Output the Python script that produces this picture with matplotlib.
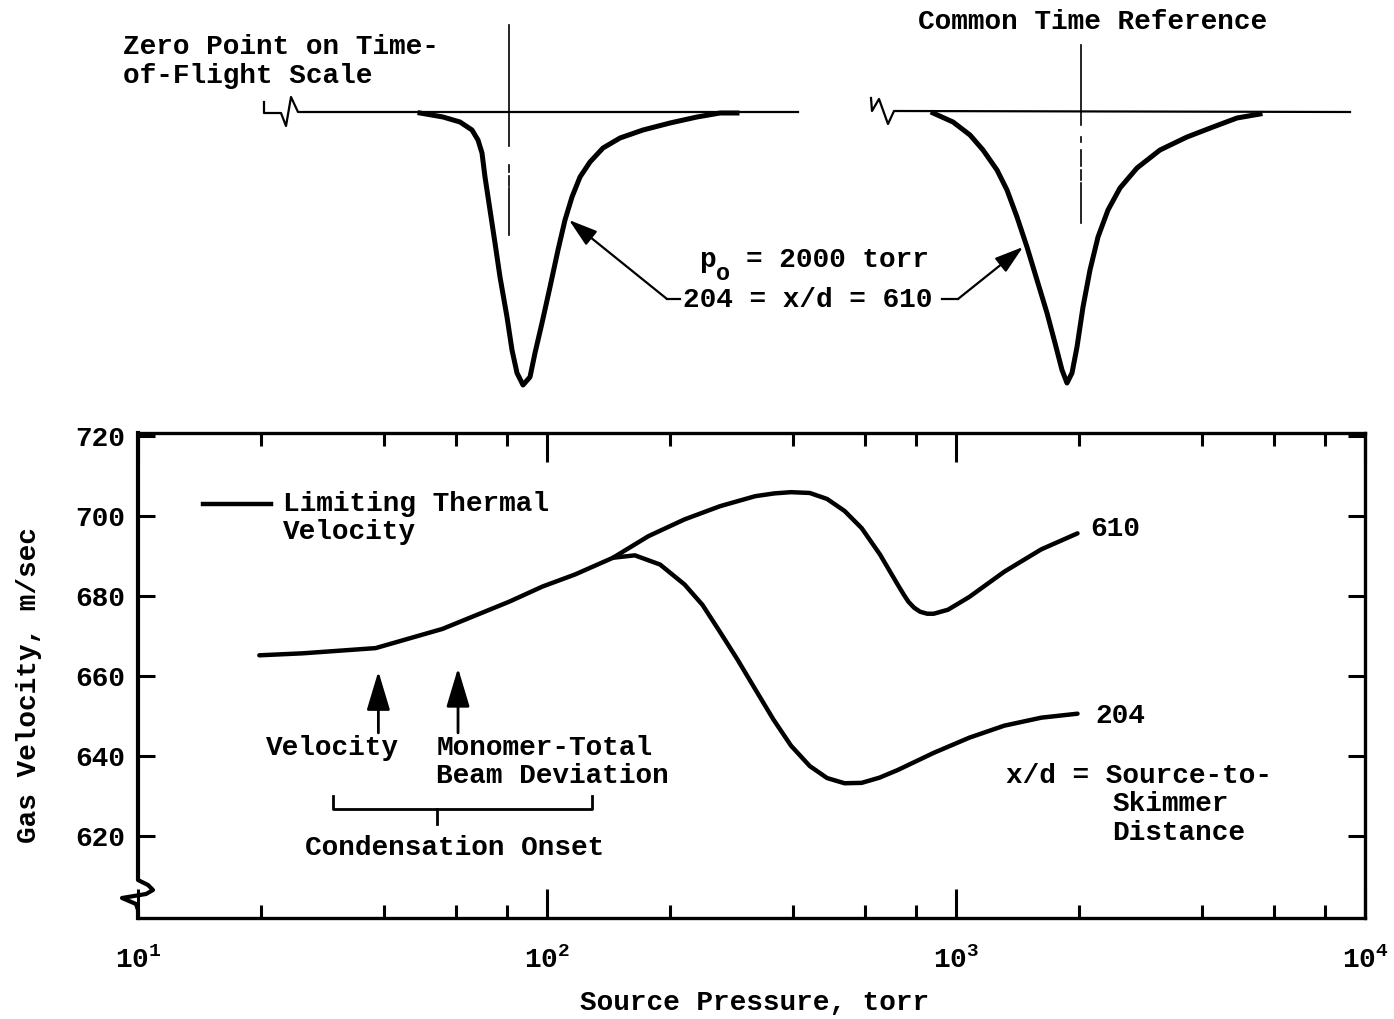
import numpy as np
import matplotlib
matplotlib.use("Agg")
import matplotlib.pyplot as plt
from matplotlib.ticker import FixedLocator, FixedFormatter, NullFormatter

plt.rcParams['font.family'] = ['Liberation Mono', 'DejaVu Sans Mono']
plt.rcParams['font.weight'] = 'bold'
plt.rcParams['axes.labelweight'] = 'bold'
FS = 20

# ── gas velocity vs source pressure ─────────────────────────────────────────────
# common curve up to ~145 torr, then the x/d = 610 branch
p_610 = [19.8, 25.3, 38.1, 55.5, 80.8, 97.5, 117, 145, 177, 217, 265, 323, 360,
         395, 439, 484, 534, 588, 652, 720, 745, 765, 790, 817, 850, 882, 956,
         1078, 1312, 1616, 1982]
v_610 = [665.2, 665.7, 667.0, 671.8, 678.6, 682.4, 685.4, 689.6, 695.0, 699.2,
         702.5, 705.0, 705.7, 706.0, 705.8, 704.3, 701.3, 697.0, 690.4, 682.9,
         680.4, 678.6, 677.1, 676.1, 675.6, 675.6, 676.6, 679.8, 686.1, 691.7,
         695.7]
# x/d = 204 branch
p_204 = [145, 164, 189, 217, 240, 265, 292, 323, 358, 395, 439, 484, 534, 588,
         650, 720, 882, 1078, 1312, 1616, 1982]
v_204 = [689.6, 690.2, 687.9, 682.9, 677.8, 671.0, 664.2, 656.7, 649.1, 642.6,
         637.5, 634.5, 633.2, 633.3, 634.6, 636.5, 640.8, 644.6, 647.6, 649.6,
         650.6]

y_ticks = [620, 640, 660, 680, 700, 720]
x_major = [10, 100, 1000, 10000]
x_major_labels = [r'$\mathregular{10^{1}}$', r'$\mathregular{10^{2}}$',
                  r'$\mathregular{10^{3}}$', r'$\mathregular{10^{4}}$']
x_minor = [m * d for d in (10, 100, 1000) for m in (2, 4, 6, 8)]

# condensation onset markers (torr)
onset_velocity = 38.7
onset_monomer = 60.6

# ── time-of-flight traces (sketch units: time ~ px, signal ~ px, downward) ───────
tof1_base_t = [264, 264, 281, 286, 291, 298, 798]
tof1_base_s = [102, 113, 113, 126, 97, 112, 112]
tof1_t = [420, 443, 460, 472, 478, 482, 485, 490, 495, 500, 507, 512, 517, 523,
          530, 535, 542, 550, 558, 565, 572, 580, 590, 603, 620, 643, 670, 697,
          720, 737]
tof1_s = [113, 117, 122, 130, 140, 153, 177, 210, 243, 277, 317, 350, 373, 385,
          377, 353, 323, 287, 250, 220, 197, 177, 162, 148, 138, 130, 123, 117,
          113, 113]
tof1_ref = 509

tof2_base_t = [871, 872, 879, 888, 894, 1350]
tof2_base_s = [98, 111, 99, 124, 111, 112]
tof2_t = [933, 953, 970, 983, 997, 1007, 1017, 1027, 1037, 1047, 1055, 1062,
          1067, 1072, 1077, 1083, 1090, 1098, 1108, 1120, 1137, 1160, 1187, 1213,
          1237, 1260]
tof2_s = [113, 122, 135, 150, 170, 190, 217, 247, 280, 313, 343, 370, 383, 373,
          347, 307, 270, 237, 210, 188, 168, 150, 137, 127, 118, 114]
tof2_ref = 1081

W, H = 1394, 1019
fig = plt.figure(figsize=(W / 100, H / 100), dpi=100)

# ── sketch layer (top half) ─────────────────────────────────────────────────────
sk = fig.add_axes([0, 0, 1, 1])
sk.set_xlim(0, W)
sk.set_ylim(H, 0)
sk.axis('off')

sk.plot(tof1_base_t, tof1_base_s, color='k', lw=1.6)
sk.plot(tof1_t, tof1_s, color='k', lw=3.6, solid_joinstyle='round')
sk.plot(tof2_base_t, tof2_base_s, color='k', lw=1.6)
sk.plot(tof2_t, tof2_s, color='k', lw=3.6, solid_joinstyle='round')

for x0, segs in ((tof1_ref, [(25, 146), (165, 172), (176, 186), (188, 235)]),
                 (tof2_ref, [(45, 125), (137, 142), (150, 166), (170, 180), (183, 223)])):
    for a, b in segs:
        sk.plot([x0, x0], [a, b], color='k', lw=1.2)

sk.text(123, 47, "Zero Point on Time-", fontsize=FS, va='center')
sk.text(123, 76, "of-Flight Scale", fontsize=FS, va='center')
sk.text(918, 22, "Common Time Reference", fontsize=FS, va='center')
sk.text(700, 260, "p", fontsize=FS, va='center')
sk.text(716, 274, "o", fontsize=FS - 3, va='center')
sk.text(746, 260, "= 2000 torr", fontsize=FS, va='center')
sk.text(683, 300, "204 = x/d = 610", fontsize=FS, va='center')

arrow_kw = dict(arrowstyle='-|>,head_length=0.8,head_width=0.25',
                color='k', lw=1.6, mutation_scale=22, shrinkA=0, shrinkB=0)
sk.plot([680, 667], [299, 299], color='k', lw=1.6)
sk.annotate('', xy=(569, 220), xytext=(667, 299), arrowprops=arrow_kw)
sk.plot([942, 958], [299, 299], color='k', lw=1.6)
sk.annotate('', xy=(1023, 247), xytext=(958, 299), arrowprops=arrow_kw)

# ── main plot ───────────────────────────────────────────────────────────────────
ax = fig.add_axes([138 / W, 1 - 918 / H, (1365 - 138) / W, (918 - 433) / H])
ax.set_xscale('log')
ax.set_xlim(10, 1e4)
ax.set_ylim(599.5, 720.8)

ax.plot(p_610, v_610, color='k', lw=3.2, solid_joinstyle='round', solid_capstyle='round')
ax.plot(p_204, v_204, color='k', lw=3.2, solid_joinstyle='round', solid_capstyle='round')

for side in ('top', 'right', 'bottom'):
    ax.spines[side].set_linewidth(2.4)
ax.spines['left'].set_visible(False)

# left spine with the axis-break zigzag near the bottom
bx_px = [0, 0, 10, 15, 8, -16, -2, 0, 0]
by_px = [485, 38, 33, 28, 24, 20, 14, 8, 0]
ax_w, ax_h = 1365 - 138, 918 - 433
ax.plot([d / ax_w for d in bx_px], [d / ax_h for d in by_px], color='k', lw=3,
        transform=ax.transAxes, clip_on=False, solid_joinstyle='round')

ax.xaxis.set_major_locator(FixedLocator(x_major))
ax.xaxis.set_major_formatter(FixedFormatter(x_major_labels))
ax.xaxis.set_minor_locator(FixedLocator(x_minor))
ax.xaxis.set_minor_formatter(NullFormatter())
ax.tick_params(axis='x', which='major', direction='in', length=21, width=2.2,
               top=True, bottom=True, labelsize=FS, pad=21)
ax.tick_params(axis='x', which='minor', direction='in', length=9.5, width=2.2,
               top=True, bottom=True)
ax.set_yticks(y_ticks)
ax.tick_params(axis='y', which='major', direction='in', length=12, width=2.2,
               left=True, right=True, labelsize=FS, pad=9)
ax.tick_params(axis='y', which='minor', left=False, right=False)

ax.set_xlabel("Source Pressure, torr", fontsize=FS)
ax.xaxis.set_label_coords((755 - 138) / ax_w, -(990 - 918) / ax_h)
ax.set_ylabel("Gas Velocity, m/sec", fontsize=FS)
ax.yaxis.set_label_coords(-(138 - 42) / ax_w, (918 - 685) / ax_h)

# annotations
ax.plot([14.4, 21.1], [703.0, 703.0], color='k', lw=3.2)
ax.text(22.6, 703.0, "Limiting Thermal", fontsize=FS, va='center')
ax.text(22.6, 696.0, "Velocity", fontsize=FS, va='center')

up_kw = dict(arrowstyle='-|>,head_length=1.0,head_width=0.3',
             color='k', lw=2.0, mutation_scale=24, shrinkA=0, shrinkB=0)
ax.annotate('', xy=(onset_velocity, 661.2), xytext=(onset_velocity, 645.8),
            arrowprops=up_kw)
ax.annotate('', xy=(onset_monomer, 662.0), xytext=(onset_monomer, 645.8),
            arrowprops=up_kw)
ax.text(20.6, 642.1, "Velocity", fontsize=FS, va='center')
ax.text(53.6, 642.1, "Monomer-Total", fontsize=FS, va='center')
ax.text(53.6, 635.0, "Beam Deviation", fontsize=FS, va='center')

ax.plot([30, 30, 129, 129], [630, 626.7, 626.7, 630], color='k', lw=2)
ax.plot([53.9, 53.9], [626.7, 622.9], color='k', lw=2)
ax.text(59.4, 616.9, "Condensation Onset", fontsize=FS, va='center', ha='center')

ax.text(2130, 696.7, "610", fontsize=FS, va='center')
ax.text(2193, 649.9, "204", fontsize=FS, va='center')
ax.text(1324, 635.0, "x/d = Source-to-", fontsize=FS, va='center')
ax.text(2415, 628.0, "Skimmer", fontsize=FS, va='center')
ax.text(2415, 620.7, "Distance", fontsize=FS, va='center')

fig.savefig("out.png", dpi=100)
